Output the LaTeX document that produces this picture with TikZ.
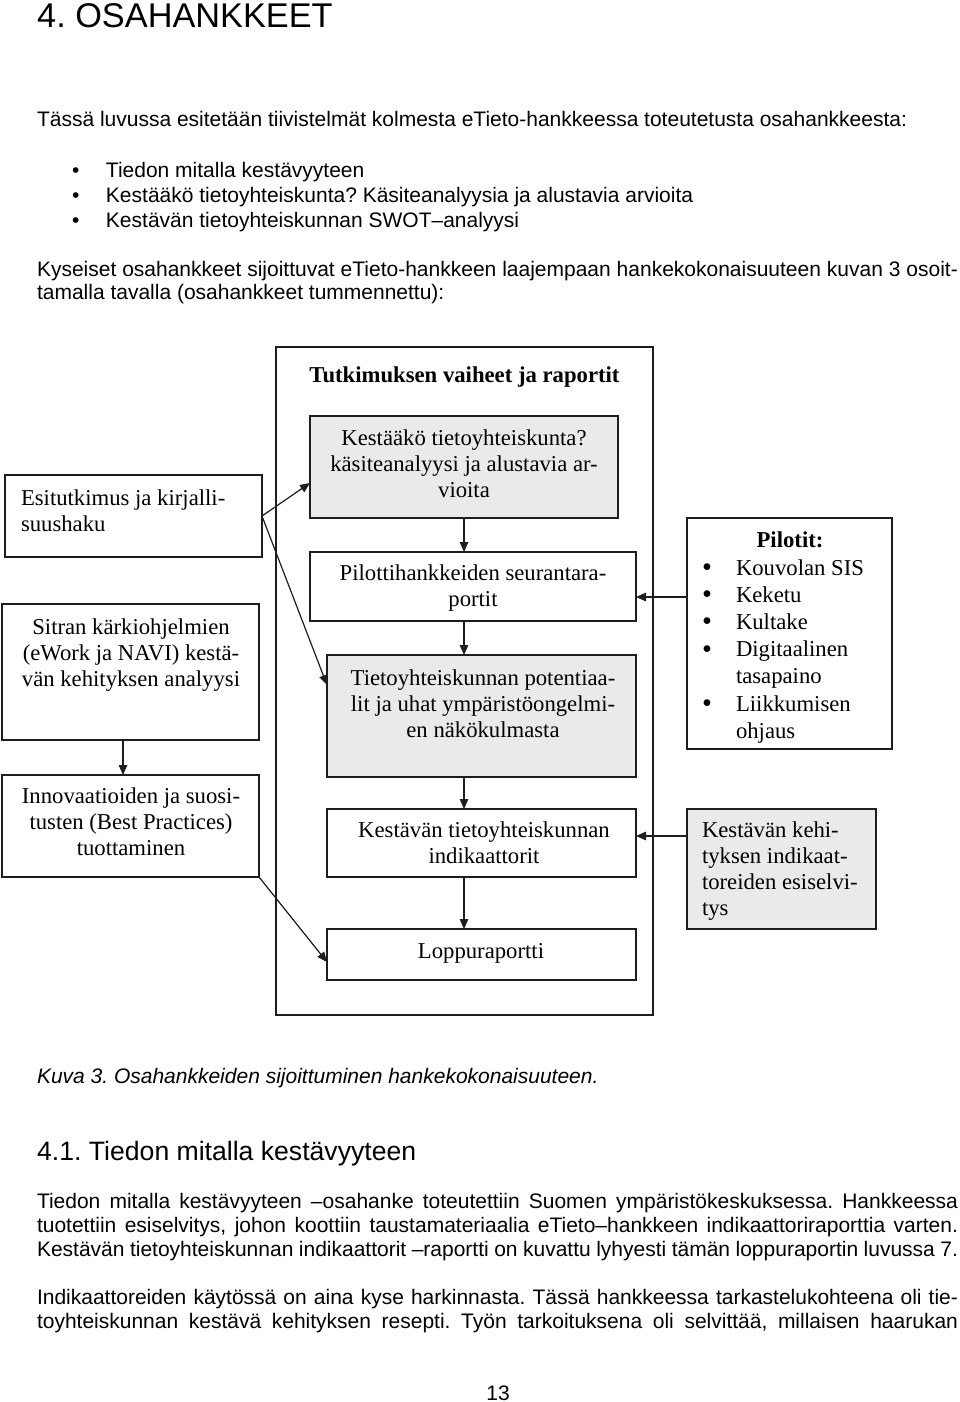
\documentclass[tikz,border=0pt]{standalone}
\usepackage{fontspec}
\setmainfont{Liberation Sans}
\newfontfamily\tnr{Liberation Serif}
\usetikzlibrary{arrows.meta}
\definecolor{boxgray}{RGB}{234,234,234}
\definecolor{linec}{RGB}{30,30,30}
\frenchspacing
\newcommand\pbul{\raisebox{-1.5pt}{\scalebox{1.25}{\textbullet}}}
\tikzset{
  pbox/.style={draw=linec, line width=1.3pt, inner sep=0pt, outer sep=0pt, rectangle, anchor=north west},
  gbox/.style={pbox, fill=boxgray},
  dtxt/.style={inner sep=0pt, outer sep=0pt, font=\tnr\fontsize{22.7}{26}\selectfont},
  ptxt/.style={inner sep=0pt, outer sep=0pt, font=\fontsize{21}{24}\selectfont},
  arr/.style={draw=linec, line width=1.2pt, -{Triangle[length=10pt,width=8.5pt]}}
}
\begin{document}
\begin{tikzpicture}[x=1pt,y=-1pt]
\useasboundingbox (0,0) rectangle (960,1402);
\fill[white] (0,0) rectangle (960,1402);

% ---------- page text (top) ----------
\node[inner sep=0pt, anchor=base west, font=\fontsize{34.3}{40}\selectfont] (h1) at (37,28) {4. OSAHANKKEET};
\node[ptxt, anchor=base west] (p1) at (37,127) {Tässä luvussa esitetään tiivistelmät kolmesta eTieto-hankkeessa toteutetusta osahankkeesta:};
\node[ptxt, anchor=north west, align=left, font=\fontsize{21}{25}\selectfont] (blist) at (72,159.5)
 {\strut\makebox[34pt][l]{\textbullet}Tiedon mitalla kestävyyteen\\
  \makebox[34pt][l]{\textbullet}Kestääkö tietoyhteiskunta? Käsiteanalyysia ja alustavia arvioita\\
  \makebox[34pt][l]{\textbullet}Kestävän tietoyhteiskunnan SWOT–analyysi};
\node[ptxt, anchor=north west, align=left, font=\fontsize{21}{23.5}\selectfont] (p2) at (37,259.55)
 {\strut\makebox[921pt][s]{Kyseiset osahankkeet sijoittuvat eTieto-hankkeen laajempaan hankekokonaisuuteen kuvan 3 osoit-}\\
  tamalla tavalla (osahankkeet tummennettu):};

% ---------- diagram boxes ----------
\node[pbox, minimum width=377pt, minimum height=668pt] (outer) at (276,347) {};
\node[dtxt, anchor=base, font=\tnr\bfseries\fontsize{22.7}{26}\selectfont] (otitle) at (464.5,382) {Tutkimuksen vaiheet ja raportit};

\node[gbox, minimum width=308pt, minimum height=102pt] (b1) at (310,416) {};
\node[pbox, minimum width=326pt, minimum height=69pt] (b2) at (310,552) {};
\node[gbox, minimum width=309pt, minimum height=122pt] (b3) at (327,655) {};
\node[pbox, minimum width=309pt, minimum height=68pt] (b4) at (327,809) {};
\node[pbox, minimum width=309pt, minimum height=51pt] (b5) at (327,929) {};

\node[pbox, minimum width=257pt, minimum height=82pt] (esi) at (5,475) {};
\node[pbox, minimum width=257pt, minimum height=136pt] (sit) at (2,604) {};
\node[pbox, minimum width=257pt, minimum height=102pt] (inn) at (2,775) {};

\node[pbox, minimum width=205pt, minimum height=231pt] (pil) at (687,518) {};
\node[gbox, minimum width=189pt, minimum height=120pt] (keh) at (687,809) {};

% ---------- diagram texts ----------
\node[dtxt, anchor=north, align=center] (b1t) at (464,426.8)
 {\strut Kestääkö tietoyhteiskunta?\\ käsiteanalyysi ja alustavia ar-\\ vioita};
\node[dtxt, anchor=north, align=center] (b2t) at (473,561.8)
 {\strut Pilottihankkeiden seurantara-\\ portit};
\node[dtxt, anchor=north, align=center] (b3t) at (483,666.8)
 {\strut Tietoyhteiskunnan potentiaa-\\ lit ja uhat ympäristöongelmi-\\ en näkökulmasta};
\node[dtxt, anchor=north, align=center] (b4t) at (484,818.8)
 {\strut Kestävän tietoyhteiskunnan\\ indikaattorit};
\node[dtxt, anchor=base] (b5t) at (481,958) {Loppuraportti};

\node[dtxt, anchor=north west, align=left] (esit) at (21,486.8)
 {\strut Esitutkimus ja kirjalli-\\ suushaku};
\node[dtxt, anchor=north, align=center] (sitt) at (131,615.8)
 {\strut Sitran kärkiohjelmien\\ (eWork ja NAVI) kestä-\\ vän kehityksen analyysi};
\node[dtxt, anchor=north, align=center] (innt) at (131,784.8)
 {\strut Innovaatioiden ja suosi-\\ tusten (Best Practices)\\ tuottaminen};

\node[dtxt, anchor=base, font=\tnr\bfseries\fontsize{22.7}{26}\selectfont] (pilh) at (790,547) {Pilotit:};
\node[dtxt, anchor=north west, align=left, font=\tnr\fontsize{22.7}{27.2}\selectfont] (pill) at (702,555.96)
 {\strut\makebox[34pt][l]{\pbul}Kouvolan SIS\\
  \makebox[34pt][l]{\pbul}Keketu\\
  \makebox[34pt][l]{\pbul}Kultake\\
  \makebox[34pt][l]{\pbul}Digitaalinen\\
  \hspace*{34pt}tasapaino\\
  \makebox[34pt][l]{\pbul}Liikkumisen\\
  \hspace*{34pt}ohjaus};

\node[dtxt, anchor=north west, align=left] (keht) at (702,818.8)
 {\strut Kestävän kehi-\\ tyksen indikaat-\\ toreiden esiselvi-\\ tys};

% ---------- connectors ----------
\coordinate (b1in) at ([yshift=-16pt]b1.west);
\coordinate (b3in) at ([yshift=31pt]b3.west);
\coordinate (b5in) at ([yshift=-7.5pt]b5.west);
\coordinate (sitout) at ([xshift=-7.5pt]sit.south);
\coordinate (pilout) at ([yshift=36.5pt]pil.west);
\coordinate (kehout) at ([yshift=33pt]keh.west);

\draw[arr] (esi.east) -- (b1in);
\draw[arr] (esi.east) -- (b3in);
\draw[arr] (b1.south) -- (b1.south |- b2.north);
\draw[arr] (b2.south -| b1.south) -- (b3.north -| b1.south);
\draw[arr] (b3.south -| b1.south) -- (b4.north -| b1.south);
\draw[arr] (b4.south -| b1.south) -- (b5.north -| b1.south);
\draw[arr] (sitout) -- (sitout |- inn.north);
\draw[arr] (inn.south east) -- (b5in);
\draw[arr] (pilout) -- (pilout -| b2.east);
\draw[arr] (kehout) -- (kehout -| b4.east);

% ---------- page text (bottom) ----------
\node[ptxt, anchor=base west, font=\itshape\fontsize{21}{24}\selectfont] (cap) at (37,1083) {Kuva 3. Osahankkeiden sijoittuminen hankekokonaisuuteen.};
\node[inner sep=0pt, anchor=base west, font=\fontsize{26.6}{31}\selectfont] (h2) at (37,1160) {4.1. Tiedon mitalla kestävyyteen};
\node[ptxt, anchor=north west, align=left] (p3) at (37,1191.2)
 {\strut\makebox[921pt][s]{Tiedon mitalla kestävyyteen –osahanke toteutettiin Suomen ympäristökeskuksessa. Hankkeessa}\\
  \makebox[921pt][s]{tuotettiin esiselvitys, johon koottiin taustamateriaalia eTieto–hankkeen indikaattoriraporttia varten.}\\
  \makebox[921pt][s]{Kestävän tietoyhteiskunnan indikaattorit –raportti on kuvattu lyhyesti tämän loppuraportin luvussa 7.}};
\node[ptxt, anchor=north west, align=left] (p4) at (37,1287.2)
 {\strut\makebox[921pt][s]{Indikaattoreiden käytössä on aina kyse harkinnasta. Tässä hankkeessa tarkastelukohteena oli tie-}\\
  \makebox[921pt][s]{toyhteiskunnan kestävä kehityksen resepti. Työn tarkoituksena oli selvittää, millaisen haarukan}};
\node[ptxt, anchor=base] (pnum) at (498,1400) {13};
\end{tikzpicture}
\end{document}
